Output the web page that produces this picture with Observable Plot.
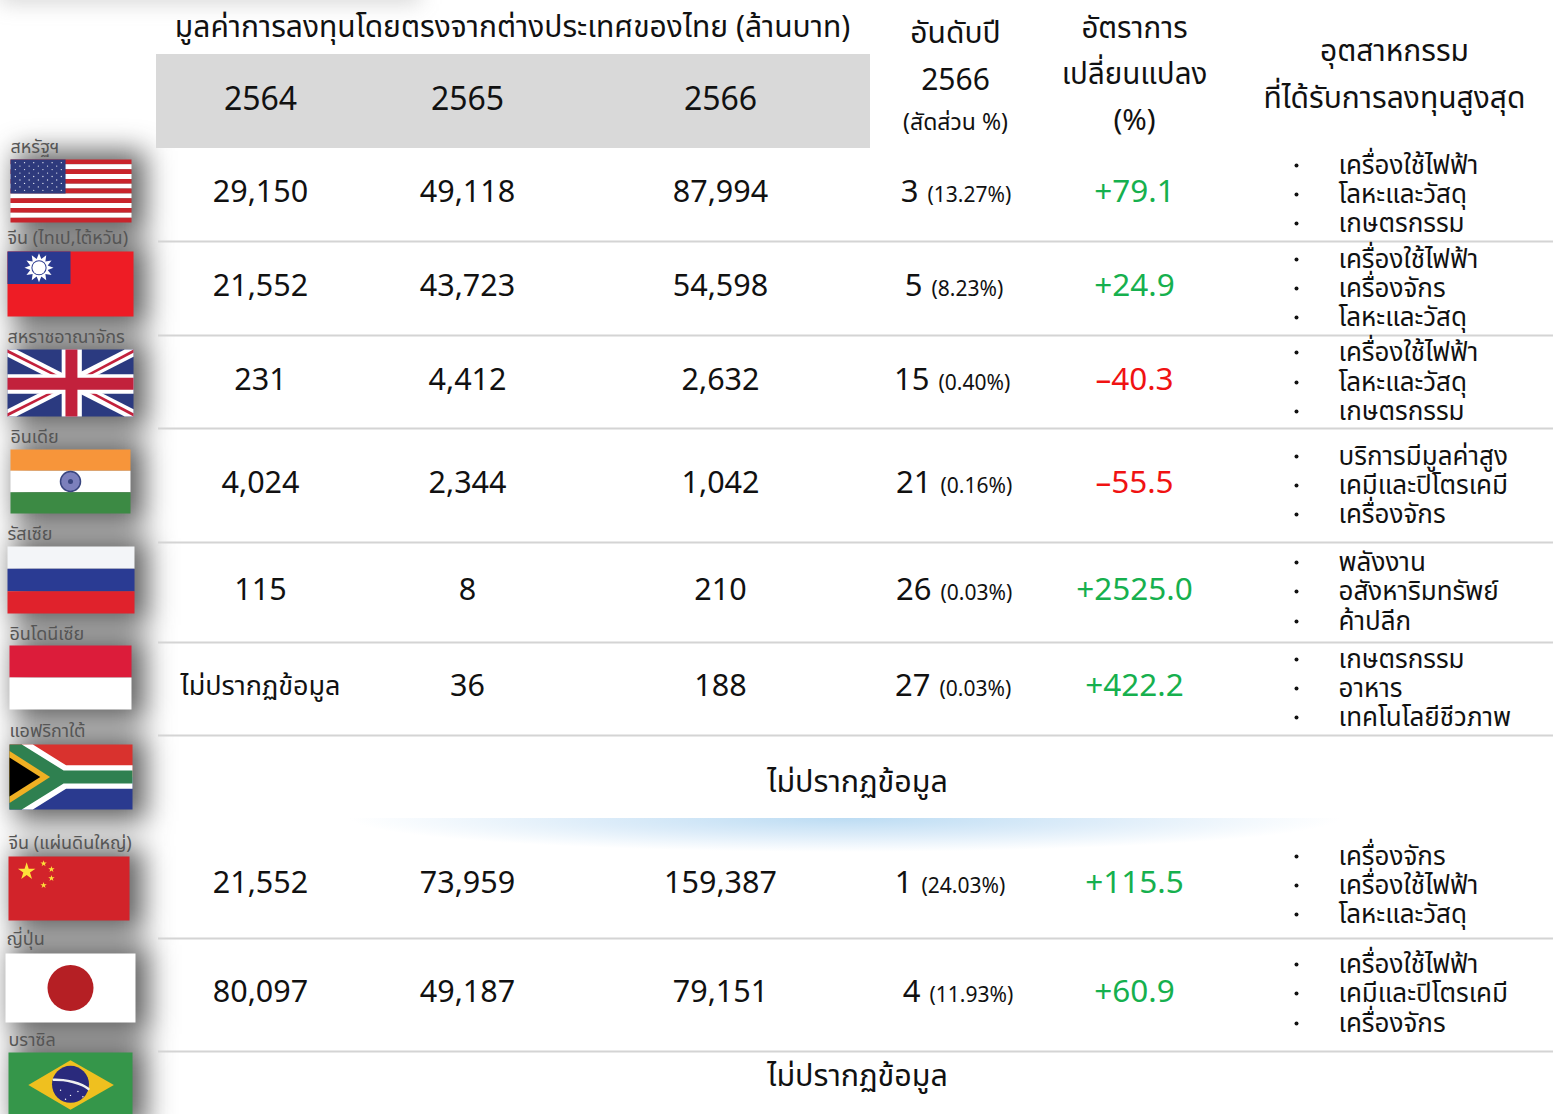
<!DOCTYPE html>
<html><head><meta charset="utf-8">
<script src="https://cdn.jsdelivr.net/npm/d3@7"></script>
<script src="https://cdn.jsdelivr.net/npm/@observablehq/plot@0.6"></script>
<style>html,body{margin:0;padding:0;background:#fff;overflow:hidden}svg{display:block}</style>
</head><body><div id="chart"></div>
<script>
// ---------- data ----------
const countries = ["สหรัฐฯ","จีน (ไทเป,ไต้หวัน)","สหราชอาณาจักร","อินเดีย","รัสเซีย","อินโดนีเซีย","แอฟริกาใต้","จีน (แผ่นดินใหญ่)","ญี่ปุ่น","บราซิล"];
const years = ["2564","2565","2566"];
const v2564 = ["29,150","21,552","231","4,024","115","ไม่ปรากฏข้อมูล",null,"21,552","80,097",null];
const v2565 = ["49,118","43,723","4,412","2,344","8","36",null,"73,959","49,187",null];
const v2566 = ["87,994","54,598","2,632","1,042","210","188",null,"159,387","79,151",null];
const ranks = ["3","5","15","21","26","27",null,"1","4",null];
const shares = ["(13.27%)","(8.23%)","(0.40%)","(0.16%)","(0.03%)","(0.03%)",null,"(24.03%)","(11.93%)",null];
const changes = ["+79.1","+24.9","–40.3","–55.5","+2525.0","+422.2",null,"+115.5","+60.9",null];
const industries = [
 ["เครื่องใช้ไฟฟ้า","โลหะและวัสดุ","เกษตรกรรม"],
 ["เครื่องใช้ไฟฟ้า","เครื่องจักร","โลหะและวัสดุ"],
 ["เครื่องใช้ไฟฟ้า","โลหะและวัสดุ","เกษตรกรรม"],
 ["บริการมีมูลค่าสูง","เคมีและปิโตรเคมี","เครื่องจักร"],
 ["พลังงาน","อสังหาริมทรัพย์","ค้าปลีก"],
 ["เกษตรกรรม","อาหาร","เทคโนโลยีชีวภาพ"],
 null,
 ["เครื่องจักร","เครื่องใช้ไฟฟ้า","โลหะและวัสดุ"],
 ["เครื่องใช้ไฟฟ้า","เคมีและปิโตรเคมี","เครื่องจักร"],
 null];
const noData = "ไม่ปรากฏข้อมูล";
const titleMain = "มูลค่าการลงทุนโดยตรงจากต่างประเทศของไทย (ล้านบาท)";
const headRank = ["อันดับปี","2566"], headRankSub = "(สัดส่วน %)";
const headChange = ["อัตราการ","เปลี่ยนแปลง","(%)"];
const headIndustry = ["อุตสาหกรรม","ที่ได้รับการลงทุนสูงสุด"];

// ---------- layout (table grid on a page-sized scale) ----------
const W = 1553, H = 1114;
const FONT = "'Noto Sans Thai','Noto Sans','Inter',sans-serif";
const rowY = [192,286,380,483,590,686,782,883,992,1076];
const ruleY = [241,335,428,542,642,735,938,1051];
const colX = [260,467,720];
const rankCX = 955, changeX = 1134, bulletX = 1296, indX = 1338;
const shareX = [927,931,938,940,940,939,null,921,929,null];
const indY = [[165,194,223],[259,288,317],[352,382,411],[456,485,514],[562,591,621],[659,688,717],null,[856,885,914],[964,993,1023],null];
const labelX = [10,7,7,10,7,9,9,8,6,8];
const labelY = [147,238,337,437,534,634,731,843,939,1040];
const flagBox = [[10,159,131,222],[7,251,133,316],[7,349,133,416],[10,449,130,513],[7,546,134,613],[9,645,131,709],[9,744,132,809],[8,856,129,920],[5,953,135,1022],[8,1052,132,1117]];

// ---------- flag artwork in unit coordinates of each flag ----------
const polys = [];
function poly(f,color,pts){polys.push({f,color,pts});}
function band(f,color,x0,y0,x1,y1){poly(f,color,[[x0,y0],[x1,y0],[x1,y1],[x0,y1]]);}
const dots = [];
function dot(f,u,v,r,fill,symbol="circle",stroke="none"){dots.push({f,u,v,r,fill,symbol,stroke});}
// USA
for(let i=0;i<13;i++) band(0,i%2?"#ffffff":"#c8242c",0,i/13,1,(i+1)/13);
band(0,"#2e3a7c",0,0,.455,7/13);
for(let r=0;r<9;r++){const n=r%2?5:6;for(let c=0;c<n;c++) dot(0,(.04+(r%2?.038:0))+c*.076,.05+r*.055,.65,"#e8ecf4");}
// Taiwan
band(1,"#ee1c25",0,0,1,1); band(1,"#2a3990",0,0,.5,.5);
{const tips=[],N=12;for(let k=0;k<N*2;k++){const a=k*Math.PI/N,rad=k%2?9:14.5;tips.push([.25+rad*Math.cos(a)/126,.25+rad*Math.sin(a)/65]);}poly(1,"#ffffff",tips);}
dot(1,.25,.25,7.6,"#2a3990"); dot(1,.25,.25,6.6,"#ffffff");
// UK
band(2,"#2b3a80",0,0,1,1);
poly(2,"#ffffff",[[0,0],[.07,0],[1,.89],[1,1],[.93,1],[0,.11]]);
poly(2,"#ffffff",[[1,0],[.93,0],[0,.89],[0,1],[.07,1],[1,.11]]);
poly(2,"#c2213c",[[0,0],[.46,.44],[.42,.44],[0,.05]]);
poly(2,"#c2213c",[[1,1],[.56,.56],[.6,.56],[1,.95]]);
poly(2,"#c2213c",[[1,0],[.56,.44],[.6,.44],[1,.05]]);
poly(2,"#c2213c",[[0,1],[.46,.56],[.42,.56],[0,.95]]);
band(2,"#ffffff",.43,0,.59,1); band(2,"#ffffff",0,.37,1,.66);
band(2,"#c2213c",.46,0,.555,1); band(2,"#c2213c",0,.42,1,.6);
// India
band(3,"#f7953a",0,0,1,1/3); band(3,"#ffffff",0,1/3,1,2/3); band(3,"#3c8a44",0,2/3,1,1);
dot(3,.5,.5,10,"#7c80bc","circle","#39457f"); dot(3,.5,.5,2.5,"#39457f");
// Russia
band(4,"#f3f5f8",0,0,1,1/3); band(4,"#2a3b93",0,1/3,1,2/3); band(4,"#e0222c",0,2/3,1,1);
// Indonesia
band(5,"#dc1c3a",0,0,1,.5); band(5,"#ffffff",0,.5,1,1);
// South Africa
band(6,"#d9322e",0,0,1,.5); band(6,"#2a3a8f",0,.5,1,1);
poly(6,"#ffffff",[[.1,0],[.19,0],[.46,.32],[1,.32],[1,.68],[.46,.68],[.19,1],[.1,1]]);
poly(6,"#2f8050",[[0,0],[.1,0],[.44,.4],[1,.4],[1,.6],[.44,.6],[.1,1],[0,1]]);
poly(6,"#f0b023",[[0,.1],[.33,.5],[0,.9]]);
poly(6,"#000000",[[0,.2],[.25,.5],[0,.8]]);
// China
band(7,"#d2232a",0,0,1,1);
dot(7,.15,.234,5.5,"#fde23a","star");
dot(7,.29,.11,2,"#fde23a","star"); dot(7,.355,.2,2,"#fde23a","star"); dot(7,.355,.34,2,"#fde23a","star"); dot(7,.29,.45,2,"#fde23a","star");
// Japan
band(8,"#ffffff",0,0,1,1);
dot(8,.5,.5,23,"#b51f24");
// Brazil
band(9,"#35964a",0,0,1,1);
poly(9,"#efc01f",[[.16,.5],[.5,.12],[.85,.5],[.5,.88]]);
dot(9,.5,.49,18.5,"#2a2a7c");
const brazilBand = [[.365,.42],[.44,.42],[.52,.45],[.6,.5],[.645,.56]];
for(const [u,v] of [[.42,.58],[.5,.66],[.56,.6],[.6,.68],[.46,.72]]) dot(9,u,v,.7,"#ffffff");

const flagPoints = polys.flatMap((p,id)=>{const [x0,y0,x1,y1]=flagBox[p.f];
  return p.pts.map(([u,v])=>({id,color:p.color,x:x0+u*(x1-x0),y:y0+v*(y1-y0)}));});
const flagDots = dots.map(d=>{const [x0,y0,x1,y1]=flagBox[d.f];return {...d,x:x0+d.u*(x1-x0),y:y0+d.v*(y1-y0)};});
const bandLine = brazilBand.map(([u,v])=>{const [x0,y0,x1,y1]=flagBox[9];return {x:x0+u*(x1-x0),y:y0+v*(y1-y0)};});

// ---------- rows ----------
const rows = countries.map((c,i)=>({i,c,y:rowY[i]}));
const rowsWith = rows.filter(r=>ranks[r.i]!=null);
const cellRows = rowsWith.flatMap(r=>[v2564,v2565,v2566].map((a,k)=>({x:colX[k],y:r.y,t:a[r.i]})));
const indRows = rows.filter(r=>industries[r.i]).flatMap(r=>industries[r.i].map((t,k)=>({t,y:indY[r.i][k]})));
const text = (data,opts)=>Plot.text(data,{x:"x",y:"y",text:"t",fill:"#111",fontFamily:FONT,...opts});
const head = (arr,x,ys,size)=>text(arr.map((t,k)=>({t,x,y:ys[k]})),{fontSize:size});

const defs = () => {
  const d = d3.create("svg:defs");
  const g = d.append("radialGradient").attr("id","glow").attr("cx",.5).attr("cy",0).attr("r",.5)
    .attr("gradientTransform","translate(.5 0) scale(1 2) translate(-.5 0)");
  g.append("stop").attr("offset",0).attr("stop-color","#bcdcf3");
  g.append("stop").attr("offset",.5).attr("stop-color","#dcecf9");
  g.append("stop").attr("offset",1).attr("stop-color","#ffffff");
  return d.node();
};

const chart = Plot.plot({
  width:W,height:H,margin:0,
  x:{domain:[0,W],range:[0,W],axis:null},
  y:{domain:[0,H],range:[0,H],axis:null},
  r:{type:"identity"},
  marks:[
    defs,
    // soft flag shadows
    Plot.rect(flagBox,{x1:d=>d[0]+6,y1:d=>d[1]-8,x2:d=>d[2]+14,y2:d=>d[3]+12,fill:"#222",fillOpacity:.72,imageFilter:"blur(14px)"}),
    Plot.rect([[0,-20,420,4]],{x1:d=>d[0],y1:d=>d[1],x2:d=>d[2],y2:d=>d[3],fill:"#777",fillOpacity:.28,imageFilter:"blur(10px)"}),
    // header band and separators
    Plot.rect([0],{x1:156,x2:870,y1:54,y2:148,fill:"#d9d9d9"}),
    Plot.rect([0],{x1:350,x2:1340,y1:818,y2:852,fill:"url(#glow)"}),
    Plot.ruleY(ruleY,{x1:158,x2:W,stroke:"#d4d4d4",strokeWidth:2}),
    // flags
    Plot.line(flagPoints,{x:"x",y:"y",z:"id",fill:"color",stroke:null,curve:"linear-closed"}),
    Plot.dot(flagDots,{x:"x",y:"y",r:"r",fill:"fill",stroke:"stroke",symbol:"symbol"}),
    Plot.line(bandLine,{x:"x",y:"y",stroke:"#f0f0f0",strokeWidth:2.5,curve:"basis"}),
    // country labels
    text(rows.map(r=>({t:r.c,x:labelX[r.i],y:labelY[r.i]})),{textAnchor:"start",fontSize:18,fill:"#555"}),
    // headers
    text([{t:titleMain,x:512,y:27}],{fontSize:30}),
    text(years.map((t,k)=>({t,x:colX[k],y:99})),{fontSize:32}),
    head(headRank,rankCX,[33,80],30),
    text([{t:headRankSub,x:rankCX,y:122}],{fontSize:23}),
    head(headChange,changeX,[28,74,120],29.5),
    head(headIndustry,1394,[51,98],30),
    // values
    text(cellRows.filter(d=>d.t!==noData),{fontSize:30.5}),
    text(cellRows.filter(d=>d.t===noData),{fontSize:27}),
    text(rowsWith.map(r=>({t:ranks[r.i],x:shareX[r.i]-9,y:r.y})),{textAnchor:"end",fontSize:31}),
    text(rowsWith.map(r=>({t:shares[r.i],x:shareX[r.i],y:r.y+3})),{textAnchor:"start",fontSize:21}),
    text(rowsWith.map(r=>({t:changes[r.i],x:changeX,y:r.y-1,c:changes[r.i][0]==="+"?"#16b04e":"#f01212"})),{fill:"c",fontSize:31.5}),
    // industries
    Plot.dot(indRows,{x:()=>bulletX,y:"y",r:()=>2,fill:"#111"}),
    text(indRows.map(d=>({...d,x:indX})),{textAnchor:"start",fontSize:26}),
    // no data
    text([6,9].map(i=>({t:noData,x:857,y:rowY[i]})),{fontSize:30.5})
  ]
});
document.getElementById("chart").append(chart);
</script></body></html>
